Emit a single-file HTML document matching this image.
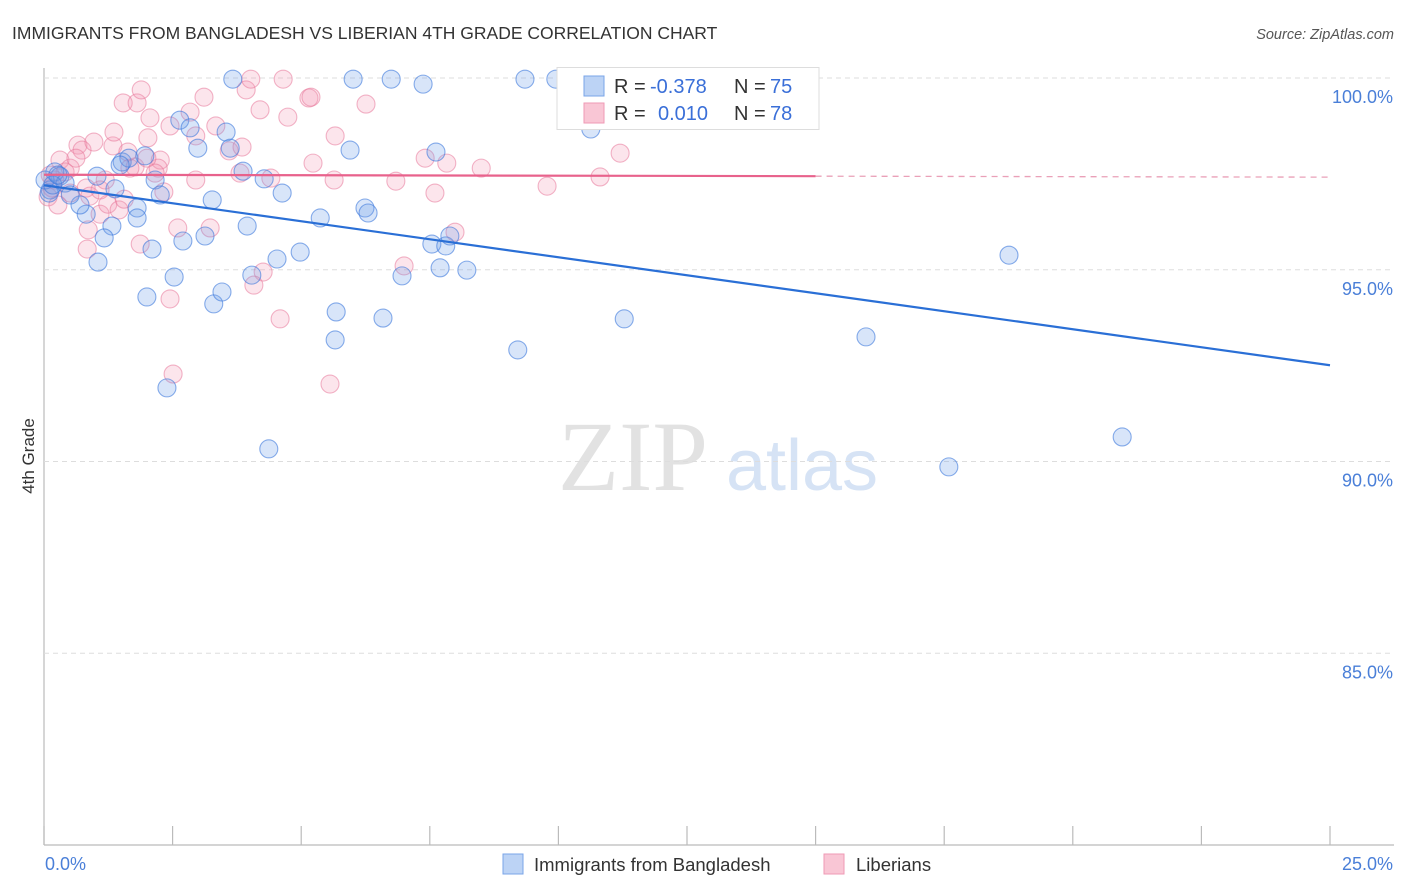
<!DOCTYPE html>
<html><head><meta charset="utf-8"><style>
body{margin:0;background:#fff;width:1406px;height:892px;overflow:hidden;font-family:"Liberation Sans",sans-serif;}
svg{position:absolute;left:0;top:0}
</style></head><body>
<svg id="chart" width="1406" height="892">
<text x="12" y="39" font-size="17.5" fill="#333">IMMIGRANTS FROM BANGLADESH VS LIBERIAN 4TH GRADE CORRELATION CHART</text>
<text x="1394" y="39" font-size="14.5" fill="#555" font-style="italic" text-anchor="end">Source: ZipAtlas.com</text>
<text x="633" y="490" font-size="100" fill="#e2e2e2" font-family="Liberation Serif,serif" text-anchor="middle">ZIP</text>
<text x="802" y="490" font-size="72" fill="#d6e3f5" text-anchor="middle">atlas</text>
<text transform="translate(34,456) rotate(-90)" font-size="17" fill="#333" text-anchor="middle">4th Grade</text>
<g id="grid"></g><g id="pts"></g><g id="lines"></g>
<g>
<rect x="557" y="67.5" width="262" height="62" fill="#fff" stroke="#ddd"/>
<rect x="584" y="76" width="20" height="20" fill="#bcd3f5" stroke="#7aa5e8"/>
<rect x="584" y="103" width="20" height="20" fill="#f9c6d5" stroke="#ef9ab5"/>
<text x="614" y="93" font-size="20" fill="#333">R = <tspan fill="#3a6fd8" x="650">-0.378</tspan></text>
<text x="734" y="93" font-size="20" fill="#333">N = <tspan fill="#3a6fd8" x="770">75</tspan></text>
<text x="614" y="120" font-size="20" fill="#333">R = <tspan fill="#3a6fd8" x="658">0.010</tspan></text>
<text x="734" y="120" font-size="20" fill="#333">N = <tspan fill="#3a6fd8" x="770">78</tspan></text>
</g>
<g>
<rect x="503" y="854" width="20" height="20" fill="#bcd3f5" stroke="#7aa5e8"/>
<text x="534" y="871" font-size="18.5" fill="#333">Immigrants from Bangladesh</text>
<rect x="824" y="854" width="20" height="20" fill="#f9c6d5" stroke="#ef9ab5"/>
<text x="856" y="871" font-size="18.5" fill="#333">Liberians</text>
</g>
<text x="45" y="870" font-size="18" fill="#4a7fd8">0.0%</text>
<text x="1393" y="870" font-size="18" fill="#4a7fd8" text-anchor="end">25.0%</text>
</svg>
<script>
const yTicks=[100,95,90,85];
const blueX=[3.67,6.01,6.75,7.37,9.35,9.95,10.63,2.64,2.84,3.54,2.99,3.62,5.95,7.62,1.96,1.52,1.65,1.48,1.03,0.31,0.21,0.12,0.41,1.38,2.16,2.26,3.87,4.28,4.63,3.27,1.81,1.81,0.82,0.70,1.32,1.17,2.70,3.13,2.10,3.95,5.37,6.24,6.30,4.98,4.53,4.04,2.53,1.05,2.00,3.30,3.46,5.68,6.59,6.96,7.54,7.81,7.89,7.70,8.22,5.66,9.21,11.28,15.98,18.76,17.59,20.96,2.39,4.37,0.10,0.02,0.17,0.51,0.27];
const blueY=[99.97,99.97,99.97,99.84,99.97,99.97,98.67,98.90,98.70,98.59,98.17,98.17,98.12,98.07,97.97,97.81,97.91,97.73,97.44,97.44,97.55,97.08,97.26,97.11,97.34,96.95,97.57,97.37,97.00,96.82,96.61,96.35,96.45,96.69,96.14,95.83,95.75,95.88,95.54,96.14,96.35,96.61,96.48,95.46,95.28,94.86,94.81,95.20,94.29,94.11,94.42,93.90,93.74,94.84,95.67,95.62,95.88,95.05,94.99,93.17,92.91,93.72,93.25,95.38,89.86,90.64,91.92,90.33,97.00,97.34,97.21,96.95,97.47];
const pinkX=[0.08,0.16,0.31,0.41,0.51,0.66,0.74,0.62,0.97,0.82,0.89,1.09,0.86,0.84,1.24,1.34,1.36,1.54,1.81,1.89,2.06,2.02,2.26,2.22,2.33,2.45,2.84,2.95,3.11,2.95,1.77,1.67,1.46,1.56,1.87,2.60,3.23,2.45,2.51,3.34,3.60,3.93,4.02,3.81,4.41,4.65,4.20,4.74,5.15,5.19,5.23,5.66,5.64,6.26,6.84,4.26,4.08,4.59,5.56,7.00,7.41,7.60,7.83,7.99,8.50,9.78,10.81,11.20,0.21,0.12,0.27,0.51,1.09,1.19,2.00,3.85,1.63,2.16];
const pinkY=[96.90,97.13,97.86,97.55,97.65,98.25,98.12,97.91,98.33,97.13,96.92,96.45,96.04,95.54,96.71,98.23,98.59,99.35,99.35,99.69,98.96,98.44,97.86,97.65,97.03,98.75,99.11,98.49,99.50,97.34,97.68,97.65,96.56,96.84,95.67,96.09,96.09,94.24,92.28,98.75,98.10,99.69,99.97,97.52,97.39,99.97,99.17,98.98,99.48,99.50,97.78,98.49,97.34,99.32,97.31,94.94,94.60,93.72,92.02,95.10,97.91,97.00,97.78,95.98,97.65,97.18,97.42,98.04,97.34,97.47,96.69,97.00,97.08,97.34,97.91,98.20,98.07,97.52];
const NS='http://www.w3.org/2000/svg';
const X0=44,X1=1330,Y0=78,Y1=845;
const sx=v=>X0+v/25*(X1-X0);
const sy=v=>Y0+(100-v)/20*(Y1-Y0);
function mk(tag,attrs,parent){const e=document.createElementNS(NS,tag);for(const k in attrs)e.setAttribute(k,attrs[k]);parent.appendChild(e);return e;}
const grid=document.getElementById('grid');
let ax=mk('line',{x1:X0,y1:68,x2:X0,y2:Y1,stroke:'#bbb','stroke-width':1.2},grid);


let bx=mk('line',{x1:X0,y1:Y1,x2:1394,y2:Y1,stroke:'#bbb','stroke-width':1.2},grid);


yTicks.forEach(t=>{
  const g=mk('line',{x1:X0,y1:sy(t),x2:1394,y2:sy(t),stroke:'#ddd','stroke-dasharray':'5,4'},grid);
  
  
  const l=mk('text',{x:1393,y:sy(t)+25,'font-size':18,fill:'#4a7fd8','text-anchor':'end'},grid);
  l.textContent=t.toFixed(1)+'%';
  
  
});
for(let i=0;i<=10;i++){
  const x=sx(i*2.5);
  const tk=mk('line',{x1:x,y1:826,x2:x,y2:Y1,stroke:'#bbb','stroke-width':1.2},grid);
  
  
}
const pts=document.getElementById('pts');
function dots(xs,ys,fill,stroke,name){
  xs.forEach((v,i)=>{
    const c=mk('circle',{cx:sx(v),cy:sy(ys[i]),r:9,fill:fill,stroke:stroke,'stroke-width':1.1},pts);
    
    
  });
}
dots(pinkX,pinkY,'rgba(244,150,178,0.25)','rgba(232,120,155,0.55)','liberian-point');
dots(blueX,blueY,'rgba(110,160,232,0.27)','rgba(60,120,220,0.6)','bangladesh-point');
function fit(xs,ys){const n=xs.length;let mx=0,my=0;xs.forEach((v,i)=>{mx+=v;my+=ys[i];});mx/=n;my/=n;let sxy=0,sxx=0;xs.forEach((v,i)=>{sxy+=(v-mx)*(ys[i]-my);sxx+=(v-mx)*(v-mx);});const b=sxy/sxx;return [my-b*mx,b];}
const lines=document.getElementById('lines');
const [ba,bb]=fit(blueX,blueY);
let bl=mk('line',{x1:sx(0),y1:sy(ba),x2:sx(25),y2:sy(ba+bb*25),stroke:'#2a6fd6','stroke-width':2.2},lines);


const [pa,pb]=fit(pinkX,pinkY);
let pl=mk('line',{x1:sx(0),y1:sy(pa),x2:sx(15),y2:sy(pa+pb*15),stroke:'#e8628c','stroke-width':2.2},lines);


let pd=mk('line',{x1:sx(15),y1:sy(pa+pb*15),x2:sx(25),y2:sy(pa+pb*25),stroke:'#eaa0b8','stroke-width':1.3,'stroke-dasharray':'6,5'},lines);


</script>
</body></html>
